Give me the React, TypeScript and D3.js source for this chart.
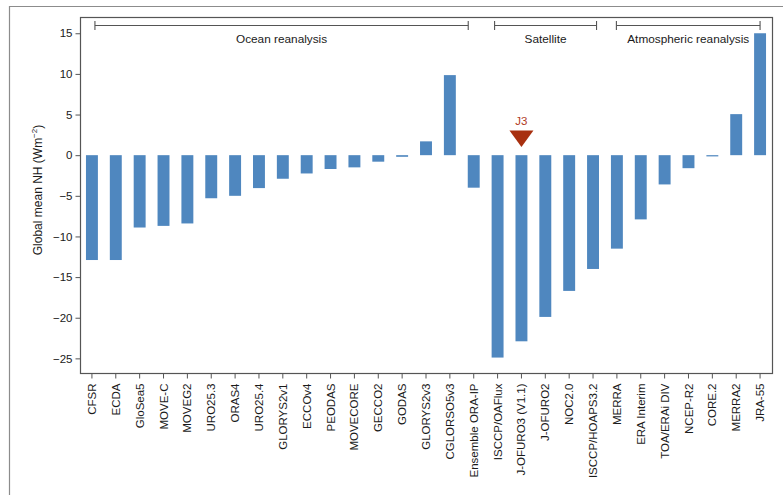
import React, { useEffect, useRef } from "react";
import * as d3 from "d3";

const categories = [
  "CFSR", "ECDA", "GloSea5", "MOVE-C", "MOVEG2", "URO25.3", "ORAS4", "URO25.4",
  "GLORYS2v1", "ECCOv4", "PEODAS", "MOVECORE", "GECCO2", "GODAS", "GLORYS2v3",
  "CGLORSO5v3", "Ensemble ORA-IP", "ISCCP/OAFlux", "J-OFURO3 (V1.1)", "J-OFURO2",
  "NOC2.0", "ISCCP/HOAPS3.2", "MERRA", "ERA Interim", "TOA/ERAi DIV", "NCEP-R2",
  "CORE.2", "MERRA2", "JRA-55",
];
const values = [
  -12.9, -12.9, -8.9, -8.7, -8.4, -5.3, -5.0, -4.05, -2.9, -2.25, -1.7, -1.5,
  -0.8, -0.2, 1.7, 9.85, -4.0, -24.9, -22.9, -19.9, -16.7, -14.0, -11.5, -7.9,
  -3.6, -1.6, -0.15, 5.05, 15.0,
];
const groupLabels = ["Ocean reanalysis", "Satellite", "Atmospheric reanalysis"];
const groupFirst = ["CFSR", "ISCCP/OAFlux", "MERRA"];
const groupLast = ["Ensemble ORA-IP", "ISCCP/HOAPS3.2", "JRA-55"];
const yTicks = [15, 10, 5, 0, -5, -10, -15, -20, -25];
const markerLabel = "J3";
const markerCategory = "J-OFURO3 (V1.1)";

const W = 783;
const H = 495;
const left = 80;
const right = 772;
const top = 17;
const bottom = 373;
const font = "'Liberation Sans', Arial, Helvetica, sans-serif";

export default function App() {
  const ref = useRef<SVGSVGElement>(null);

  useEffect(() => {
    const svg = d3.select(ref.current);
    svg.selectAll("*").remove();

    const x = d3
      .scaleBand<string>()
      .domain(categories)
      .range([left, right])
      .paddingInner(0.5)
      .paddingOuter(0.25);
    const y = d3.scaleLinear().domain([-26.8, 17]).range([bottom, top]);
    const cx = (c: string) => (x(c) as number) + x.bandwidth() / 2;

    // outer frame of the figure
    svg.append("path")
      .attr("d", `M9.5,${H} V6.5 H${W}`)
      .attr("fill", "none")
      .attr("stroke", "#8c8c8c")
      .attr("stroke-width", 1.2);

    // bars
    svg.append("g")
      .selectAll("rect")
      .data(values)
      .join("rect")
      .attr("x", (d, i) => x(categories[i]) as number)
      .attr("width", x.bandwidth())
      .attr("y", (d) => y(Math.max(0, d)))
      .attr("height", (d) => Math.abs(y(d) - y(0)))
      .attr("fill", "#4f87bf");

    // plot frame
    svg.append("rect")
      .attr("x", left + 0.5)
      .attr("y", top + 0.5)
      .attr("width", right - left)
      .attr("height", bottom - top)
      .attr("fill", "none")
      .attr("stroke", "#555")
      .attr("stroke-width", 1.2);

    // y axis
    const yAxis = svg.append("g")
      .attr("transform", `translate(${left + 0.5},0)`)
      .call(d3.axisLeft(y).tickValues(yTicks).tickSize(5).tickPadding(3));
    yAxis.select(".domain").remove();
    yAxis.selectAll("line").attr("stroke", "#555");
    yAxis.selectAll("text")
      .attr("font-family", font)
      .attr("font-size", 11.5)
      .attr("fill", "#1a1a1a");

    // x axis
    const xAxis = svg.append("g")
      .attr("transform", `translate(0,${bottom + 0.5})`)
      .call(d3.axisBottom(x).tickSize(5).tickPadding(3));
    xAxis.select(".domain").remove();
    xAxis.selectAll("line").attr("stroke", "#555");
    xAxis.selectAll("text")
      .attr("font-family", font)
      .attr("font-size", 11.5)
      .attr("fill", "#1a1a1a")
      .attr("text-anchor", "end")
      .attr("transform", "rotate(-90)")
      .attr("x", -10)
      .attr("y", 0)
      .attr("dy", "0.35em");

    // y axis title
    const title = svg.append("text")
      .attr("transform", `translate(42,190) rotate(-90)`)
      .attr("text-anchor", "middle")
      .attr("font-family", font)
      .attr("font-size", 12)
      .attr("fill", "#1a1a1a");
    title.append("tspan").text("Global mean NH (Wm");
    title.append("tspan").attr("font-size", 8).attr("dy", -5).text("−2");
    title.append("tspan").attr("dy", 5).text(")");

    // group brackets
    const offsets = [[3, -5.5], [-3, 3.5], [-0.5, 0]];
    const by = 25.5;
    groupLabels.forEach((g, i) => {
      const x0 = cx(groupFirst[i]) + offsets[i][0];
      const x1 = cx(groupLast[i]) + offsets[i][1];
      const bg = svg.append("g").attr("stroke", "#555").attr("stroke-width", 1.1);
      bg.append("line").attr("x1", x0).attr("x2", x1).attr("y1", by).attr("y2", by);
      bg.append("line").attr("x1", x0).attr("x2", x0).attr("y1", by - 4.5).attr("y2", by + 4.5);
      bg.append("line").attr("x1", x1).attr("x2", x1).attr("y1", by - 4.5).attr("y2", by + 4.5);
      svg.append("text")
        .attr("x", (x0 + x1) / 2)
        .attr("y", 42.5)
        .attr("text-anchor", "middle")
        .attr("font-family", font)
        .attr("font-size", 11.8)
        .attr("fill", "#1a1a1a")
        .text(g);
    });

    // J3 marker
    const mx = cx(markerCategory);
    svg.append("path")
      .attr("d", `M${mx - 12},130.5 L${mx + 12},130.5 L${mx},147 Z`)
      .attr("fill", "#a8300f");
    svg.append("text")
      .attr("x", mx)
      .attr("y", 125)
      .attr("text-anchor", "middle")
      .attr("font-family", font)
      .attr("font-size", 11.5)
      .attr("fill", "#b03a1e")
      .text(markerLabel);
  }, []);

  return (
    <svg
      ref={ref}
      width={W}
      height={H}
      style={{ position: "absolute", left: 0, top: 0, background: "#fff" }}
    />
  );
}
